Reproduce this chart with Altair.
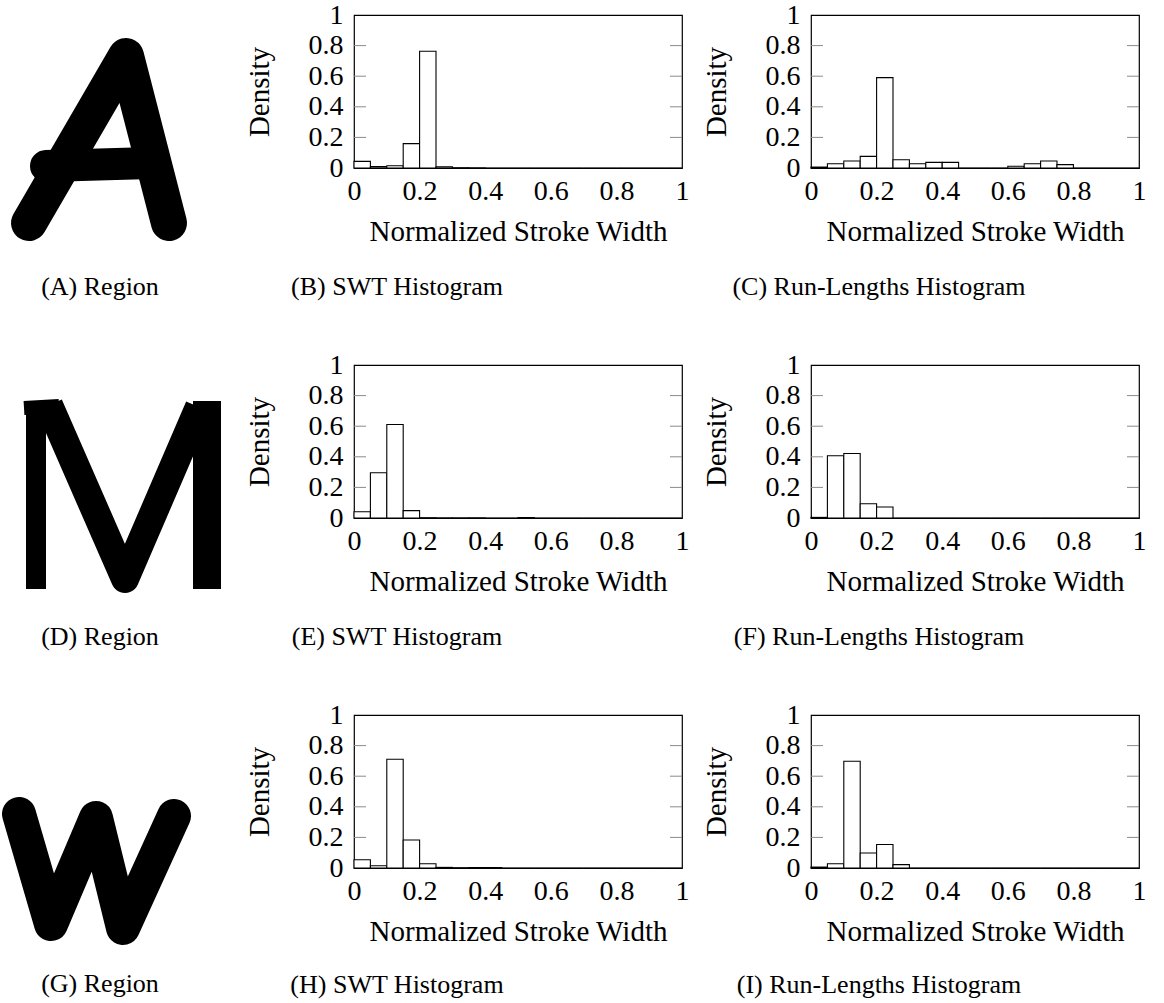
import altair as alt
import pandas as pd

SERIF = "Liberation Serif"
LABEL_SIZE = 28
TITLE_SIZE = 29
CAPTION_SIZE = 26
TICK_GRAY = "#8a8a8a"

# Histogram layout: 20 bins of width 0.05 over the normalized stroke width [0, 1]
N_BINS = 20
BIN_WIDTH = 0.05
AXIS_TICKS = [0, 0.2, 0.4, 0.6, 0.8, 1]
INNER_TICKS = [0.2, 0.4, 0.6, 0.8]

# Bin densities (one value per bin)
swt_a = [0.043, 0.009, 0.015, 0.159, 0.763, 0.008, 0.002, 0.001, 0, 0,
         0, 0, 0, 0, 0, 0, 0, 0, 0, 0]
rl_a = [0.006, 0.028, 0.046, 0.076, 0.591, 0.054, 0.028, 0.037, 0.037, 0,
        0, 0, 0.011, 0.028, 0.046, 0.022, 0, 0, 0, 0]
swt_m = [0.041, 0.296, 0.611, 0.048, 0.002, 0.001, 0.001, 0.001, 0, 0,
         0.003, 0, 0, 0, 0, 0, 0, 0, 0, 0]
rl_m = [0.004, 0.407, 0.422, 0.093, 0.072, 0, 0, 0, 0, 0,
        0, 0, 0, 0, 0, 0, 0, 0, 0, 0]
swt_w = [0.054, 0.015, 0.711, 0.183, 0.028, 0.004, 0.002, 0.003, 0.003, 0,
         0, 0, 0, 0, 0, 0, 0, 0, 0, 0]
rl_w = [0.006, 0.028, 0.698, 0.098, 0.154, 0.022, 0, 0, 0, 0,
        0, 0, 0, 0, 0, 0, 0, 0, 0, 0]

# Letter regions as pen strokes (panel pixels, y grows downward)
a_legs_x = [28, 125, 168]
a_legs_y = [208, 41, 208]
a_bar_x = [45, 150]
a_bar_y = [151, 148]

m_stem_left_x = [35, 35]
m_stem_left_y = [36, 224]
m_flick_x = [23, 58]
m_flick_y = [43, 41]
m_diag_x = [48, 124, 198]
m_diag_y = [40, 214, 42]
m_stem_right_x = [206, 206]
m_stem_right_y = [36, 224]

w_x = [18, 50, 95, 122, 173]
w_y = [99, 209, 103, 213, 101]

LETTER_W = 224
HIST_W = 328
PANEL_H = 153
TICK_LEN = 12
ROW_STEP = 350


def caption_title(text, dx, offset):
    return alt.TitleParams(
        text=text, orient="bottom", anchor="middle", frame="group",
        dx=dx, offset=offset, baseline="top",
        font=SERIF, fontSize=CAPTION_SIZE, fontWeight="normal", color="black",
    )


def letter_panel(strokes, caption, caption_dx, caption_offset):
    layers = []
    for xs, ys, width, cap in strokes:
        df = pd.DataFrame({"x": xs, "y": ys, "i": list(range(len(xs)))})
        layers.append(
            alt.Chart(df)
            .mark_line(color="black", strokeWidth=width, strokeCap=cap, strokeJoin="round")
            .encode(
                x=alt.X("x:Q", scale=alt.Scale(domain=[0, LETTER_W], nice=False, zero=False), axis=None),
                y=alt.Y("y:Q", scale=alt.Scale(domain=[0, PANEL_H], nice=False, zero=False, reverse=True), axis=None),
                order="i:Q",
            )
        )
    return alt.layer(*layers).properties(
        width=LETTER_W,
        height=PANEL_H,
        view=alt.ViewBackground(stroke="transparent"),
        title=caption_title(caption, caption_dx, caption_offset),
    )


def histogram(values, caption, caption_dx, caption_offset):
    df = pd.DataFrame({"start": [i * BIN_WIDTH for i in range(N_BINS)], "density": values})
    df["end"] = df["start"] + BIN_WIDTH
    df["base"] = 0.0

    x_scale = alt.Scale(domain=[0, 1], nice=False, zero=False)
    y_scale = alt.Scale(domain=[0, 1], nice=False, zero=False)
    common = dict(
        values=AXIS_TICKS, format="~g", ticks=False, domain=False, grid=False,
        labelFont=SERIF, labelFontSize=LABEL_SIZE, labelColor="black",
        labelFlush=False, labelOverlap=False,
        titleFont=SERIF, titleFontSize=TITLE_SIZE, titleFontWeight="normal", titleColor="black",
    )
    x_axis = alt.Axis(title="Normalized Stroke Width", labelPadding=9, titlePadding=12, **common)
    y_axis = alt.Axis(title="Density", labelPadding=11, titlePadding=34, **common)

    bars = alt.Chart(df).mark_bar(fill="white", stroke="black", strokeWidth=1.1).encode(
        x=alt.X("start:Q", scale=x_scale, axis=x_axis),
        x2="end:Q",
        y=alt.Y("density:Q", scale=y_scale, axis=y_axis),
        y2="base:Q",
    )
    tick_df = pd.DataFrame({"density": INNER_TICKS})
    left_ticks = alt.Chart(tick_df).mark_rule(color=TICK_GRAY, strokeWidth=1).encode(
        y=alt.Y("density:Q", scale=y_scale, axis=y_axis),
        x=alt.value(0), x2=alt.value(TICK_LEN),
    )
    right_ticks = alt.Chart(tick_df).mark_rule(color=TICK_GRAY, strokeWidth=1).encode(
        y=alt.Y("density:Q", scale=y_scale, axis=y_axis),
        x=alt.value(HIST_W - TICK_LEN), x2=alt.value(HIST_W),
    )
    return alt.layer(bars, left_ticks, right_ticks).properties(
        width=HIST_W,
        height=PANEL_H,
        view=alt.ViewBackground(stroke="black", strokeWidth=1.2),
        title=caption_title(caption, caption_dx, caption_offset),
    )


letter_a = [(a_legs_x, a_legs_y, 36, "round"), (a_bar_x, a_bar_y, 32, "round")]
letter_m = [
    (m_stem_left_x, m_stem_left_y, 20, "butt"),
    (m_flick_x, m_flick_y, 14, "butt"),
    (m_diag_x, m_diag_y, 28, "butt"),
    (m_stem_right_x, m_stem_right_y, 28, "butt"),
]
letter_w = [(w_x, w_y, 34, "round")]

HIST_CAPTION_OFFSET = 28

row_a = alt.hconcat(
    letter_panel(letter_a, "(A) Region", -13, 33),
    histogram(swt_a, "(B) SWT Histogram", -121, HIST_CAPTION_OFFSET),
    histogram(rl_a, "(C) Run-Lengths Histogram", -96, HIST_CAPTION_OFFSET),
    spacing=129, bounds="flush",
)
row_m = alt.hconcat(
    letter_panel(letter_m, "(D) Region", -13, 21),
    histogram(swt_m, "(E) SWT Histogram", -121, HIST_CAPTION_OFFSET),
    histogram(rl_m, "(F) Run-Lengths Histogram", -96, HIST_CAPTION_OFFSET),
    spacing=129, bounds="flush",
)
row_w = alt.hconcat(
    letter_panel(letter_w, "(G) Region", -13, 26),
    histogram(swt_w, "(H) SWT Histogram", -121, HIST_CAPTION_OFFSET - 2),
    histogram(rl_w, "(I) Run-Lengths Histogram", -96, HIST_CAPTION_OFFSET - 2),
    spacing=129, bounds="flush",
)

# With flush bounds the nested rows report no height, so the spacing is the row pitch
chart = alt.vconcat(row_a, row_m, row_w, spacing=ROW_STEP, bounds="flush").properties(
    padding={"left": 0, "top": 0, "right": 0, "bottom": 0},
    background="white",
)

chart.save("out.html", embed_options={"renderer": "svg", "actions": False})
